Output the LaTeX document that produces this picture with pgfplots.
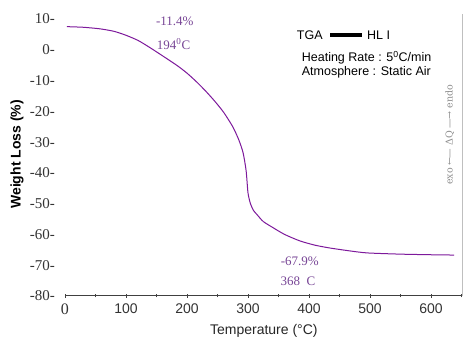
\documentclass[border=0pt]{standalone}
\usepackage{pgfplots}
\pgfplotsset{compat=1.18}
\usepackage{fontspec}
\setmainfont{Liberation Sans}
\newfontfamily\serif{Liberation Serif}
\newfontfamily\dvs{DejaVu Serif}
\definecolor{curve}{RGB}{125,25,155}
\definecolor{anno}{RGB}{120,70,150}
\begin{document}
\begin{tikzpicture}
\begin{axis}[
  at={(0,0)}, anchor=south west,
  scale only axis, width=397.7pt, height=283.2pt,
  xmin=0, xmax=652, ymin=-80, ymax=12,
  axis x line=bottom, axis y line=left,
  x axis line style={-, draw=black!75, line width=1pt},
  y axis line style={draw=none},
  ytick style={draw=none},
  xtick={0,100,...,600},
  minor xtick={50,150,...,650},
  xticklabels={{\serif\fontsize{16}{16}\selectfont\raisebox{-3pt}{0}},100,200,300,400,500,600},
  tick align=center,
  major tick length=4pt, minor tick length=3pt,
  xtick style={draw=black!75, line width=0.8pt},
  xticklabel style={font=\fontsize{14}{14}\selectfont, text=black!80, inner sep=0pt, yshift=-6pt},
  ytick={-80,-70,...,10},
  yticklabel={\pgfmathprintnumber{\tick}-},
  yticklabel style={font=\serif\fontsize{15}{15}\selectfont, text=black!80, inner sep=0pt, xshift=-8pt},
  /pgf/number format/assume math mode=true,
  xlabel={Temperature (\textdegree C)},
  xlabel style={font=\fontsize{14}{14}\selectfont, text=black!85, at={(axis description cs:0.5,0)}, anchor=north, yshift=-25pt},
  ylabel={Weight Loss (\%)},
  ylabel style={font=\bfseries\fontsize{14}{14}\selectfont, at={(axis description cs:-0.1207,0.5)}, anchor=center},
  clip=false,
]
\addplot[color=curve, line width=1pt, smooth, tension=0.4] coordinates {
(3,7.5) (30,7.3) (57,6.8) (80,6.0) (100,4.7) (120,3.0) (140,0.6) (167,-2.9)
(185,-5.3) (200,-7.6) (215,-10.3) (230,-13.3) (245,-16.6) (260,-20.3) (275,-25.0)
(285,-29.3) (292,-33.5) (297,-39.4) (300,-46.5) (304,-50) (309,-52.2) (315,-53.6) (325,-55.8)
(341,-57.8) (360,-60) (385,-62.1) (410,-63.5) (434,-64.4) (465,-65.3) (495,-66.0)
(549,-66.4) (600,-66.6) (638,-66.7)
};
\draw[black!25, line width=1.3pt] (axis cs:652,-80) -- (axis cs:652,11.5);
\node[text=anno, font=\serif\fontsize{13}{13}\selectfont] at (axis cs:180,9.4) {-11.4\%};
\node[text=anno, font=\serif\fontsize{13}{13}\selectfont] at (axis cs:178,1.9) {194\textsuperscript{0}C};
\node[text=anno, font=\serif\fontsize{13}{13}\selectfont] at (axis cs:385,-68.6) {-67.9\%};
\node[text=anno, font=\serif\fontsize{13}{13}\selectfont] at (axis cs:382,-75.2) {368\ \ C};
\node[anchor=west, inner sep=0pt, font=\fontsize{12.5}{12.5}\selectfont] at (axis cs:380,4.8) {TGA};
\draw[black, line width=3.5pt] (axis cs:435,4.8) -- (axis cs:487,4.8);
\node[anchor=west, inner sep=0pt, font=\fontsize{12.5}{12.5}\selectfont] at (axis cs:495,4.8) {HL I};
\node[anchor=west, inner sep=0pt, font=\fontsize{12.5}{12.5}\selectfont] at (axis cs:388,-2.7) {Heating Rate : 5\textsuperscript{0}C/min};
\node[anchor=west, inner sep=0pt, font=\fontsize{12.5}{12.5}\selectfont] at (axis cs:388,-7.2) {Atmosphere : Static Air};
\node[rotate=90, text=black!45, font=\dvs\fontsize{9.5}{9.5}\selectfont] at (axis cs:631,-27.7) {exo ←\kern-1pt— ΔQ —\kern-1pt→ endo};
\end{axis}
\pgfresetboundingbox
\path (-65pt,-54pt) rectangle (402pt,296pt);
\end{tikzpicture}
\end{document}
